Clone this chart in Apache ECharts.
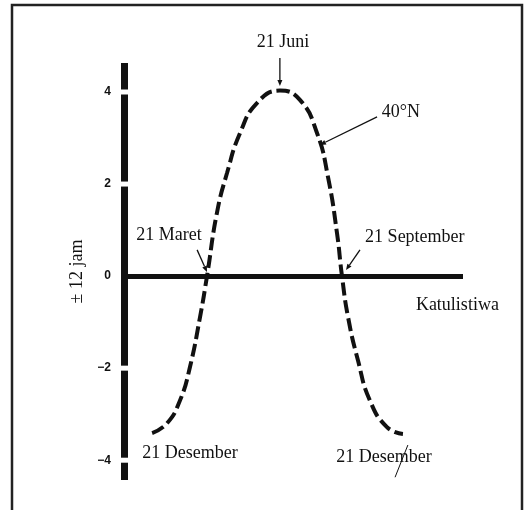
<!DOCTYPE html>
<html>
<head>
<meta charset="utf-8">
<script src="https://cdn.jsdelivr.net/npm/echarts@6/dist/echarts.min.js"></script>
<style>
  html, body { margin: 0; padding: 0; background: #fff; }
  #chart { width: 525px; height: 510px; }
</style>
</head>
<body>
<div id="chart"></div>
<script>
// months after 21 Desember, and day-length offset from 12 hours (jam)
const months = [0.56, 1.22, 1.8, 2.24, 2.69, 3.0, 3.44, 3.89, 4.47, 5.22, 6.24,
  7.13, 7.89, 8.38, 8.78, 9.0, 9.27, 9.71, 10.24, 11.0, 11.71];
const hours40N = [-3.41, -3.2, -2.7, -1.98, -0.89, 0, 1.37, 2.24, 3.11, 3.76, 4.03,
  3.83, 3.11, 2.15, 0.93, 0, -0.89, -1.83, -2.7, -3.28, -3.43];
const yTicks = [4, 2, 0, -2, -4];
const axisGaps = [4, 2, -2, -4];

// text notes, in data coords [month, jam]
const notes = [
  { text: "21 Juni", at: [6.38, 5.07] },
  { text: "40°N", at: [11.62, 3.57] },
  { text: "21 Maret", at: [1.31, 0.89] },
  { text: "21 September", at: [12.24, 0.85] },
  { text: "Katulistiwa", at: [14.13, -0.63] },
  { text: "21 Desember", at: [2.24, -3.85] },
  { text: "21 Desember", at: [10.87, -3.93] }
];
const arrows = [
  { from: [6.24, 4.74], to: [6.24, 4.13] },
  { from: [10.56, 3.46], to: [8.02, 2.85] },
  { from: [2.56, 0.57], to: [3.0, 0.09] },
  { from: [9.8, 0.57], to: [9.18, 0.13] }
];

const xMin = -0.69;
const chart = echarts.init(document.getElementById("chart"));
const ink = "#111";
const serif = '"Liberation Serif", "DejaVu Serif", serif';

chart.setOption({
  backgroundColor: "#fff",
  animation: false,
  grid: { left: 124, right: 62, top: 63, bottom: 30 },
  xAxis: {
    type: "value",
    min: xMin,
    max: 14.38,
    axisLine: { onZero: true, lineStyle: { color: ink, width: 5, cap: "butt" } },
    axisTick: { show: false },
    axisLabel: { show: false },
    splitLine: { show: false }
  },
  yAxis: {
    type: "value",
    min: -4.43,
    max: 4.63,
    name: "± 12 jam",
    nameLocation: "middle",
    nameRotate: 90,
    nameGap: 38,
    nameTextStyle: { color: ink, fontFamily: serif, fontSize: 18 },
    axisLine: { show: true, onZero: false, lineStyle: { color: ink, width: 7, cap: "butt" } },
    axisTick: { show: false },
    axisLabel: {
      customValues: yTicks,
      margin: 13,
      color: ink,
      fontFamily: '"Liberation Sans", Arial, sans-serif',
      fontWeight: "bold",
      fontSize: 12,
      formatter: (v) => (v < 0 ? "\u2212" + Math.abs(v) : String(v))
    },
    splitLine: { show: false }
  },
  series: [
    {
      name: "40°N",
      type: "line",
      data: months.map((m, i) => [m, hours40N[i]]),
      smooth: true,
      symbol: "none",
      lineStyle: { color: ink, width: 4, type: [13, 5], cap: "butt" }
    }
  ]
});

function px(p) {
  return chart.convertToPixel({ xAxisIndex: 0, yAxisIndex: 0 }, p);
}

function arrowShapes(a) {
  const p0 = px(a.from), p1 = px(a.to);
  const dx = p1[0] - p0[0], dy = p1[1] - p0[1];
  const len = Math.sqrt(dx * dx + dy * dy);
  const ux = dx / len, uy = dy / len;
  const bx = p1[0] - ux * 6, by = p1[1] - uy * 6;
  return [
    { type: "line", shape: { x1: p0[0], y1: p0[1], x2: bx, y2: by },
      style: { stroke: ink, lineWidth: 1.3 } },
    { type: "polygon",
      shape: { points: [[p1[0], p1[1]], [bx - uy * 2.5, by + ux * 2.5], [bx + uy * 2.5, by - ux * 2.5]] },
      style: { fill: ink } }
  ];
}

const elements = [];
// little breaks in the axis bar at the tick values
axisGaps.forEach((v) => {
  const p = px([xMin, v]);
  elements.push({ type: "rect", shape: { x: p[0] - 6, y: p[1] - 2.5, width: 12, height: 5 },
    style: { fill: "#fff" }, z: 10 });
});
notes.forEach((n) => {
  const p = px(n.at);
  elements.push({ type: "text", x: p[0], y: p[1], z: 10,
    style: { text: n.text, align: "center", verticalAlign: "middle", font: "18px " + serif, fill: ink } });
});
arrows.forEach((a) => elements.push(...arrowShapes(a).map((s) => Object.assign(s, { z: 10 }))));
// pen stroke over the right "Desember"
const s0 = px([11.93, -3.67]), s1 = px([11.36, -4.37]);
elements.push({ type: "line", shape: { x1: s0[0], y1: s0[1], x2: s1[0], y2: s1[1] },
  style: { stroke: ink, lineWidth: 1 }, z: 10 });
// scan frame
elements.push({ type: "rect", shape: { x: 12, y: 5, width: 510, height: 520 },
  style: { fill: null, stroke: "#222", lineWidth: 2.5 }, z: 10 });

chart.setOption({ graphic: { elements: elements } });
</script>
</body>
</html>
